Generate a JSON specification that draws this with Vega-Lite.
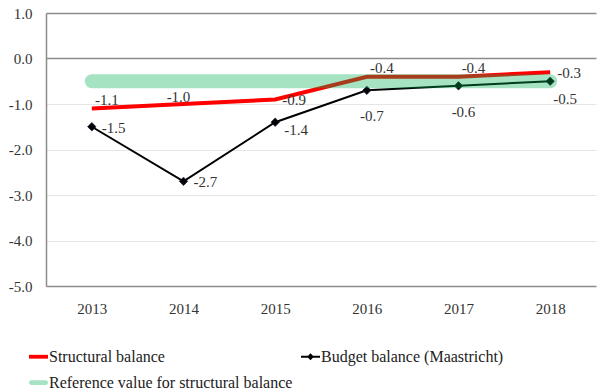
{
  "$schema": "https://vega.github.io/schema/vega-lite/v6.json",
  "width": 550,
  "height": 273,
  "autosize": "none",
  "padding": {"left": 46, "top": 13, "right": 1, "bottom": 104},
  "background": "white",
  "config": {
    "view": {"stroke": null},
    "font": "Liberation Serif",
    "locale": {"number": {"decimal": ".", "thousands": ",", "grouping": [3], "currency": ["$", ""], "minus": "-"}},
    "text": {"font": "Liberation Serif", "fontSize": 15, "fill": "#333"}
  },
  "datasets": {
    "d": [
      {"year": "2013", "series": "Structural balance", "value": -1.1},
      {"year": "2014", "series": "Structural balance", "value": -1.0},
      {"year": "2015", "series": "Structural balance", "value": -0.9},
      {"year": "2016", "series": "Structural balance", "value": -0.4},
      {"year": "2017", "series": "Structural balance", "value": -0.4},
      {"year": "2018", "series": "Structural balance", "value": -0.3},
      {"year": "2013", "series": "Budget balance (Maastricht)", "value": -1.5},
      {"year": "2014", "series": "Budget balance (Maastricht)", "value": -2.7},
      {"year": "2015", "series": "Budget balance (Maastricht)", "value": -1.4},
      {"year": "2016", "series": "Budget balance (Maastricht)", "value": -0.7},
      {"year": "2017", "series": "Budget balance (Maastricht)", "value": -0.6},
      {"year": "2018", "series": "Budget balance (Maastricht)", "value": -0.5},
      {"year": "2013", "series": "Reference value for structural balance", "value": -0.5},
      {"year": "2014", "series": "Reference value for structural balance", "value": -0.5},
      {"year": "2015", "series": "Reference value for structural balance", "value": -0.5},
      {"year": "2016", "series": "Reference value for structural balance", "value": -0.5},
      {"year": "2017", "series": "Reference value for structural balance", "value": -0.5},
      {"year": "2018", "series": "Reference value for structural balance", "value": -0.5}
    ]
  },
  "data": {"name": "d"},
  "encoding": {
    "x": {
      "field": "year", "type": "ordinal",
      "scale": {"paddingInner": 0, "paddingOuter": 0},
      "axis": {
        "title": null, "labelAngle": 0, "ticks": false,
        "domainColor": "#8c8c8c", "domainWidth": 1.5,
        "labelFont": "Liberation Serif", "labelFontSize": 15, "labelColor": "#333",
        "labelPadding": 15
      }
    },
    "y": {
      "field": "value", "type": "quantitative",
      "scale": {"domain": [-5, 1], "nice": false, "zero": false},
      "axis": {
        "title": null, "values": [-5, -4, -3, -2, -1, 0, 1], "format": ".1f",
        "ticks": false, "domainColor": "#8c8c8c", "domainWidth": 1.5,
        "gridColor": {"condition": {"test": "datum.value >= 0", "value": "#8c8c8c"}, "value": "#e6e6e6"},
        "gridWidth": {"condition": {"test": "datum.value >= 0", "value": 1.3}, "value": 1.2},
        "labelFont": "Liberation Serif", "labelFontSize": 15, "labelColor": "#333",
        "labelPadding": 14
      }
    }
  },
  "layer": [
    {
      "transform": [{"filter": "datum.series == 'Structural balance'"}],
      "mark": {"type": "line", "color": "#ff0000", "strokeWidth": 4}
    },
    {
      "transform": [{"filter": "datum.series == 'Budget balance (Maastricht)'"}],
      "mark": {"type": "line", "color": "#000000", "strokeWidth": 2}
    },
    {
      "transform": [{"filter": "datum.series == 'Budget balance (Maastricht)'"}],
      "mark": {"type": "point", "shape": "diamond", "filled": true, "color": "#000000", "size": 70, "opacity": 1, "stroke": "#2a1a40", "strokeWidth": 0.8}
    },
    {
      "transform": [{"filter": "datum.series == 'Reference value for structural balance'"}],
      "mark": {"type": "line", "color": "#00b050", "opacity": 0.35, "strokeWidth": 14, "strokeCap": "round"}
    },
    {
      "mark": {"type": "point", "filled": true, "size": 0, "opacity": 1},
      "encoding": {
        "color": {
          "field": "series", "type": "nominal",
          "scale": {
            "domain": ["Structural balance", "Budget balance (Maastricht)", "Reference value for structural balance"],
            "range": ["#ff0000", "#000000", "#a6e3c2"]
          },
          "legend": {
            "title": null, "orient": "none", "legendX": -18, "legendY": 333,
            "direction": "horizontal",
            "columns": 2, "columnPadding": 5, "rowPadding": 7,
            "symbolSize": 361, "labelOffset": 0,
            "labelFont": "Liberation Serif", "labelFontSize": 16, "labelColor": "#222",
            "labelLimit": 400, "symbolOpacity": 1
          }
        },
        "shape": {
          "field": "series", "type": "nominal",
          "scale": {
            "domain": ["Structural balance", "Budget balance (Maastricht)", "Reference value for structural balance"],
            "range": [
              "M-1,-0.2H1V0.2H-1Z",
              "M-1,-0.1H1V0.1H-1Z M0,-0.36L0.36,0L0,0.36L-0.36,0Z",
              "M-0.75,-0.25H0.75A0.25,0.25 0 0 1 0.75,0.25H-0.75A0.25,0.25 0 0 1 -0.75,-0.25Z"
            ]
          },
          "legend": {
            "title": null, "orient": "none", "legendX": -18, "legendY": 333,
            "direction": "horizontal",
            "columns": 2, "columnPadding": 5, "rowPadding": 7,
            "symbolSize": 361, "labelOffset": 0,
            "labelFont": "Liberation Serif", "labelFontSize": 16, "labelColor": "#222",
            "labelLimit": 400, "symbolOpacity": 1
          }
        }
      }
    },
    {
      "transform": [{"filter": "datum.series == 'Structural balance' && indexof(['2013','2016','2017'], datum.year) >= 0"}],
      "mark": {"type": "text", "align": "center", "baseline": "middle", "dx": 15, "dy": -9},
      "encoding": {"text": {"field": "value", "type": "quantitative", "format": ".1f"}}
    },
    {
      "transform": [{"filter": "datum.series == 'Structural balance' && datum.year == '2014'"}],
      "mark": {"type": "text", "align": "center", "baseline": "middle", "dx": -5, "dy": -7},
      "encoding": {"text": {"field": "value", "type": "quantitative", "format": ".1f"}}
    },
    {
      "transform": [{"filter": "datum.series == 'Structural balance' && indexof(['2015','2018'], datum.year) >= 0"}],
      "mark": {"type": "text", "align": "left", "baseline": "middle", "dx": 7, "dy": 1},
      "encoding": {"text": {"field": "value", "type": "quantitative", "format": ".1f"}}
    },
    {
      "transform": [{"filter": "datum.series == 'Budget balance (Maastricht)' && indexof(['2013','2014'], datum.year) >= 0"}],
      "mark": {"type": "text", "align": "left", "baseline": "middle", "dx": 10, "dy": 1},
      "encoding": {"text": {"field": "value", "type": "quantitative", "format": ".1f"}}
    },
    {
      "transform": [{"filter": "datum.series == 'Budget balance (Maastricht)' && datum.year == '2015'"}],
      "mark": {"type": "text", "align": "left", "baseline": "middle", "dx": 9, "dy": 8},
      "encoding": {"text": {"field": "value", "type": "quantitative", "format": ".1f"}}
    },
    {
      "transform": [{"filter": "datum.series == 'Budget balance (Maastricht)' && indexof(['2016','2017'], datum.year) >= 0"}],
      "mark": {"type": "text", "align": "center", "baseline": "middle", "dx": 5, "dy": 26},
      "encoding": {"text": {"field": "value", "type": "quantitative", "format": ".1f"}}
    },
    {
      "transform": [{"filter": "datum.series == 'Budget balance (Maastricht)' && datum.year == '2018'"}],
      "mark": {"type": "text", "align": "left", "baseline": "middle", "dx": 3, "dy": 18},
      "encoding": {"text": {"field": "value", "type": "quantitative", "format": ".1f"}}
    }
  ]
}
